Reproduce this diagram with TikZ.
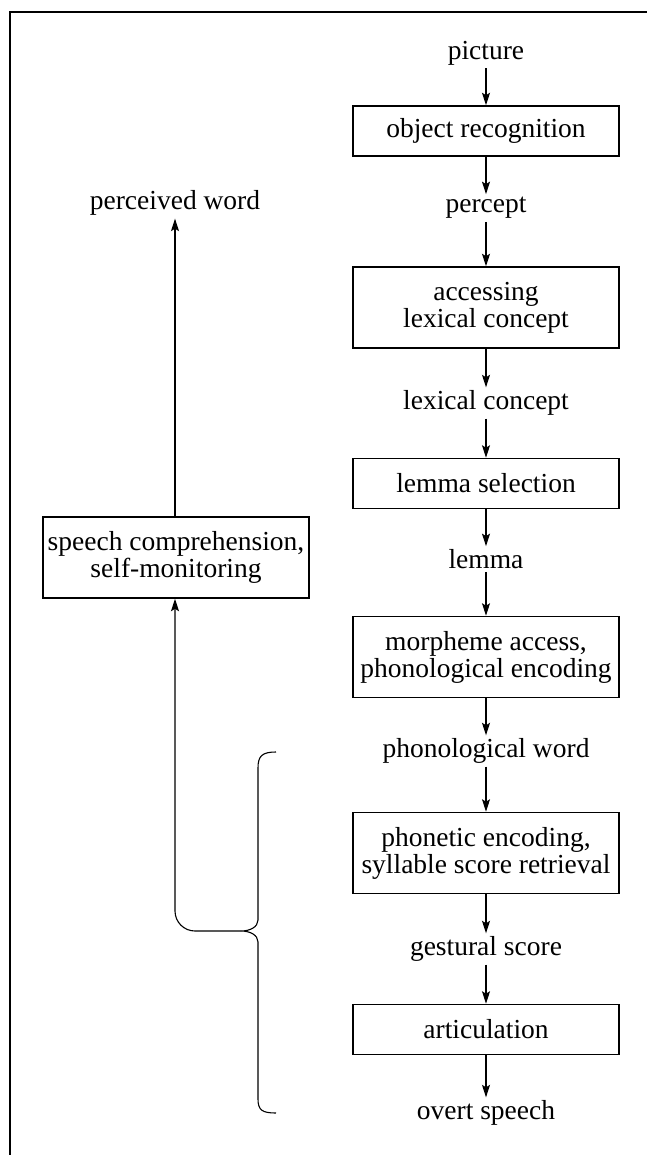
\documentclass[tikz,border=0pt]{standalone}
\usepackage{fontspec}
\setmainfont{Liberation Serif}
\usetikzlibrary{arrows.meta}
\begin{document}
\begin{tikzpicture}[x=1pt,y=-1pt,
  every node/.style={font=\fontsize{27.5}{27}\selectfont},
  lbl/.style={inner sep=3pt},
  box/.style={draw,line width=1.5pt,minimum width=266pt,inner sep=2pt,align=center},
  onebox/.style={box,minimum height=50pt},
  twobox/.style={box,minimum height=81pt},
  arr/.style={line width=1.1pt,-{Stealth[length=12.5pt,width=8pt,inset=2.5pt]}},
  frame/.style={line width=2pt}]
\useasboundingbox (0,0) rectangle (647,1155);
% frame
\draw[frame] (9.5,1155) -- (9.5,12) -- (647,12);
% main column
\node[lbl] (pic) at (486,53) {picture};
\node[onebox] (obj) at (486,131) {object recognition};
\node[lbl] (per) at (486,208) {percept};
\node[twobox] (acc) at (486,307.5) {accessing\\lexical concept};
\node[lbl] (lc) at (486,403) {lexical concept};
\node[onebox] (lem) at (486,483.5) {lemma selection};
\node[lbl] (lm) at (486,559) {lemma};
\node[twobox] (mor) at (486,657) {morpheme access,\\phonological encoding};
\node[lbl] (pw) at (486,751) {phonological word};
\node[twobox] (pho) at (486,853) {phonetic encoding,\\syllable score retrieval};
\node[lbl] (gs) at (486,949) {gestural score};
\node[onebox] (art) at (486,1029.5) {articulation};
\node[lbl] (os) at (486,1113) {overt speech};
\foreach \a/\b in {pic/obj,obj/per,per/acc,acc/lc,lc/lem,lem/lm,lm/mor,mor/pw,pw/pho,pho/gs,gs/art,art/os}
  \draw[arr] (\a) -- (\b);
% left column
\node[lbl] (perw) at (175,203) {perceived word};
\node[twobox] (sc) at (176,557.5) {speech comprehension,\\self-monitoring};
\draw[arr] (sc.north -| perw.south) -- (perw.south);
% brace
\coordinate (tip) at (241,931);
\draw[line width=1.1pt] (276,752) .. controls (262,752) and (258,756) .. (258,768)
  -- (258,920) .. controls (258,927) and (250,931) .. (tip)
  .. controls (250,931) and (258,935) .. (258,942)
  -- (258,1099) .. controls (258,1110) and (262,1113) .. (276,1113);
\draw[arr,rounded corners=20pt] (tip) -| (sc.south -| perw.south);
\end{tikzpicture}
\end{document}
